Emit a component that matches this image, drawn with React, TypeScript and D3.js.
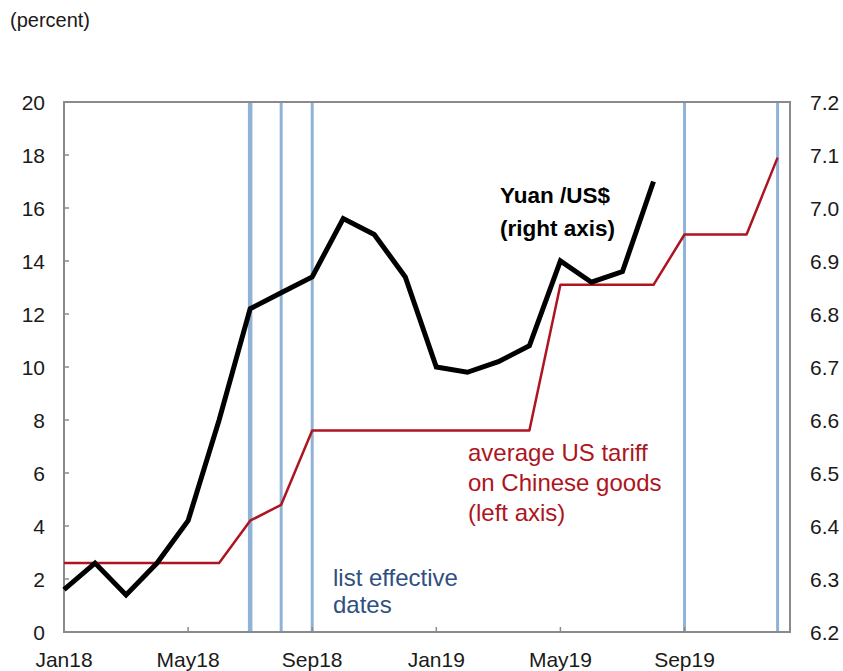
import React, { useEffect, useRef } from 'react';
import * as d3 from 'd3';

// monthly positions, Jan18 = 0
const MONTHS = [
  'Jan18', 'Feb18', 'Mar18', 'Apr18', 'May18', 'Jun18', 'Jul18', 'Aug18', 'Sep18', 'Oct18', 'Nov18', 'Dec18',
  'Jan19', 'Feb19', 'Mar19', 'Apr19', 'May19', 'Jun19', 'Jul19', 'Aug19', 'Sep19', 'Oct19', 'Nov19', 'Dec19',
];
const X_TICK_LABELS = ['Jan18', 'May18', 'Sep18', 'Jan19', 'May19', 'Sep19'];

// Yuan per US$ (right axis), Jan18..Aug19
const YUAN_USD = [
  6.28, 6.33, 6.27, 6.33, 6.41, 6.60, 6.81, 6.84, 6.87, 6.98, 6.95, 6.87,
  6.70, 6.69, 6.71, 6.74, 6.90, 6.86, 6.88, 7.05,
];

// average US tariff on Chinese goods, percent (left axis), Jan18..Dec19
const TARIFF = [
  2.6, 2.6, 2.6, 2.6, 2.6, 2.6, 4.2, 4.8, 7.6, 7.6, 7.6, 7.6,
  7.6, 7.6, 7.6, 7.6, 13.1, 13.1, 13.1, 13.1, 15.0, 15.0, 15.0, 17.9,
];

// tariff list effective dates (month labels)
const EFFECTIVE = ['Jul18', 'Aug18', 'Sep18', 'Sep19', 'Dec19'];

const LEFT_TICKS = [0, 2, 4, 6, 8, 10, 12, 14, 16, 18, 20];
const RIGHT_TICKS = [6.2, 6.3, 6.4, 6.5, 6.6, 6.7, 6.8, 6.9, 7.0, 7.1, 7.2];

const W = 843;
const H = 671;

export default function App() {
  const svgRef = useRef<SVGSVGElement>(null);

  useEffect(() => {
    if (!svgRef.current) return;
    const svg = d3.select(svgRef.current);
    svg.selectAll('*').remove();

    const left = 64, right = 790, top = 102, bottom = 632;
    const font = 'Liberation Sans, Arial, sans-serif';

    const x = d3.scaleLinear().domain([0, 23.4]).range([left, right]);
    const yL = d3.scaleLinear().domain([0, 20]).range([bottom, top]);
    const yR = d3.scaleLinear().domain([6.2, 7.2]).range([bottom, top]);
    const mi = (m: string) => MONTHS.indexOf(m);

    // list effective dates
    svg.selectAll('.eff')
      .data(EFFECTIVE)
      .enter().append('line')
      .attr('x1', d => x(mi(d))).attr('x2', d => x(mi(d)))
      .attr('y1', top).attr('y2', bottom)
      .attr('stroke', '#8fb3d6')
      .attr('stroke-width', (d, i) => (i === 0 ? 4.5 : 3));

    // frame
    svg.append('rect')
      .attr('x', left).attr('y', top)
      .attr('width', right - left).attr('height', bottom - top)
      .attr('fill', 'none').attr('stroke', '#8a8a8a').attr('stroke-width', 2);

    // left ticks
    svg.selectAll('.lt')
      .data(LEFT_TICKS)
      .enter().append('line')
      .attr('x1', left).attr('x2', left + 5)
      .attr('y1', d => yL(d)).attr('y2', d => yL(d))
      .attr('stroke', '#8a8a8a').attr('stroke-width', 1.5);

    svg.selectAll('.ll')
      .data(LEFT_TICKS)
      .enter().append('text')
      .attr('x', 45).attr('y', d => yL(d)).attr('dy', '0.36em')
      .attr('text-anchor', 'end')
      .attr('font-family', font).attr('font-size', 21).attr('fill', '#1a1a1a')
      .text(d => d);

    svg.selectAll('.rl')
      .data(RIGHT_TICKS)
      .enter().append('text')
      .attr('x', 810).attr('y', d => yR(d)).attr('dy', '0.36em')
      .attr('font-family', font).attr('font-size', 21).attr('fill', '#1a1a1a')
      .text(d => d.toFixed(1));

    // bottom ticks
    svg.selectAll('.bt')
      .data(X_TICK_LABELS.slice(1))
      .enter().append('line')
      .attr('x1', d => x(mi(d))).attr('x2', d => x(mi(d)))
      .attr('y1', bottom).attr('y2', bottom - 5)
      .attr('stroke', '#8a8a8a').attr('stroke-width', 1.5);

    svg.selectAll('.bl')
      .data(X_TICK_LABELS)
      .enter().append('text')
      .attr('x', d => x(mi(d))).attr('y', 667)
      .attr('text-anchor', 'middle')
      .attr('font-family', font).attr('font-size', 21).attr('fill', '#1a1a1a')
      .text(d => d);

    // tariff line
    const lineL = d3.line<number>().x((d, i) => x(i)).y(d => yL(d));
    svg.append('path')
      .attr('d', lineL(TARIFF))
      .attr('fill', 'none').attr('stroke', '#ad1520').attr('stroke-width', 2.5)
      .attr('stroke-linejoin', 'round');

    // yuan line
    const lineR = d3.line<number>().x((d, i) => x(i)).y(d => yR(d));
    svg.append('path')
      .attr('d', lineR(YUAN_USD))
      .attr('fill', 'none').attr('stroke', '#000').attr('stroke-width', 5)
      .attr('stroke-linejoin', 'miter');

    // annotations
    svg.append('text')
      .attr('x', 10).attr('y', 27)
      .attr('font-family', font).attr('font-size', 20).attr('fill', '#1a1a1a')
      .text('(percent)');

    const yuanLbl = svg.append('text')
      .attr('font-family', font).attr('font-size', 22.5).attr('font-weight', 'bold').attr('fill', '#000');
    yuanLbl.append('tspan').attr('x', 500).attr('y', 203).text('Yuan /US$');
    yuanLbl.append('tspan').attr('x', 500).attr('y', 236).text('(right axis)');

    const tarLbl = svg.append('text')
      .attr('font-family', font).attr('font-size', 24).attr('fill', '#ad1520');
    ['average US tariff', 'on Chinese goods', '(left axis)'].forEach((t, i) => {
      tarLbl.append('tspan').attr('x', 468).attr('y', 461 + i * 30).text(t);
    });

    const effLbl = svg.append('text')
      .attr('font-family', font).attr('font-size', 24).attr('fill', '#2f4f80');
    ['list effective', 'dates'].forEach((t, i) => {
      effLbl.append('tspan').attr('x', 333).attr('y', 586 + i * 27).text(t);
    });
  }, []);

  return (
    <svg
      ref={svgRef}
      width={W}
      height={H}
      style={{ position: 'absolute', left: 0, top: 0, background: '#fff' }}
    />
  );
}
